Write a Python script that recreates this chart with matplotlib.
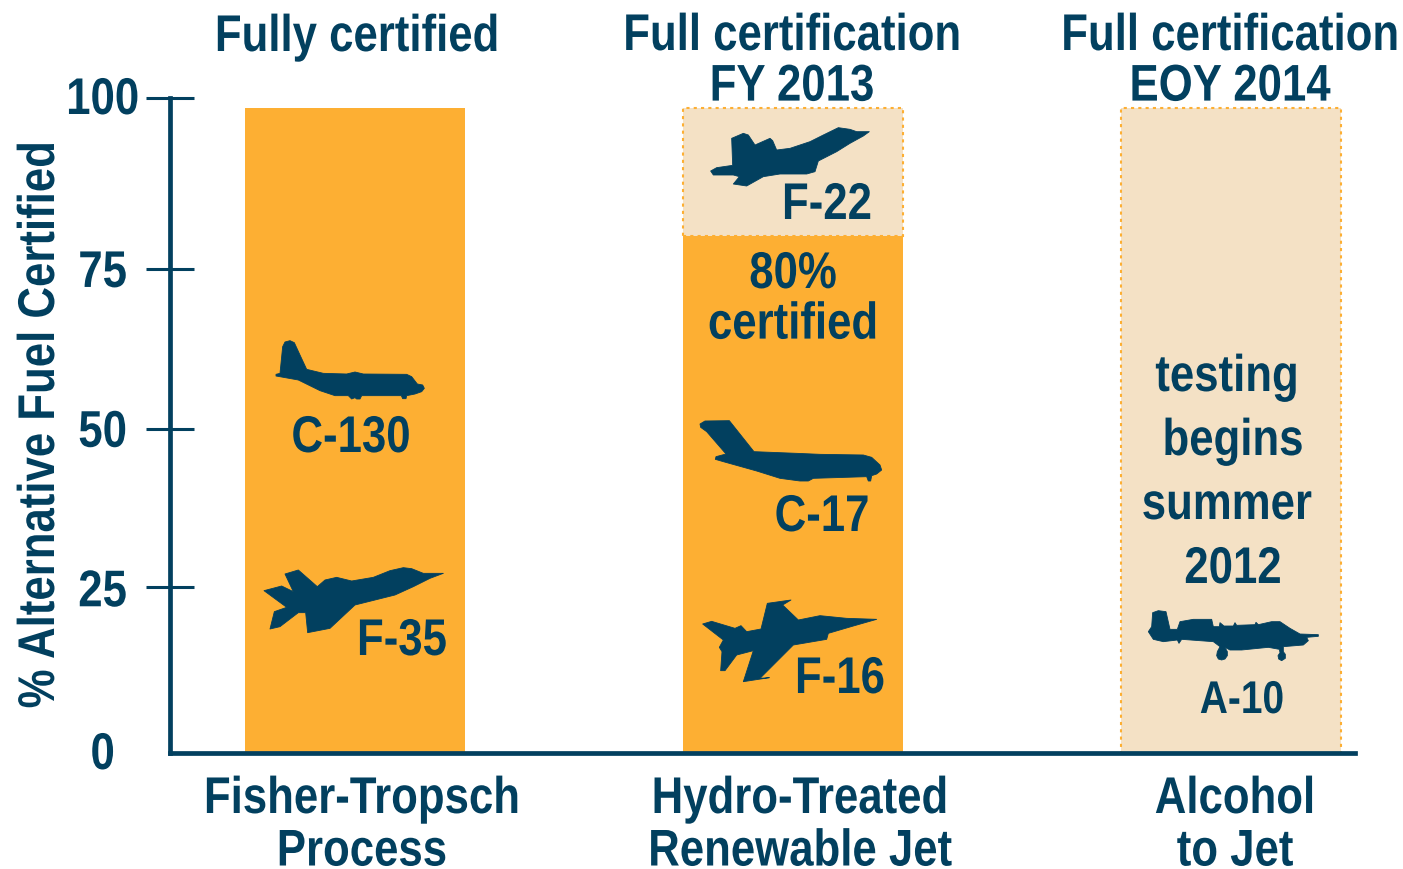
import matplotlib
matplotlib.use('Agg')
import matplotlib.pyplot as plt
from matplotlib.patches import Polygon
from matplotlib.patheffects import AbstractPathEffect
from matplotlib.transforms import Affine2D

plt.rcParams['font.family'] = ['Liberation Sans', 'DejaVu Sans']
plt.rcParams['font.weight'] = 'bold'

navy = '#02405F'
orange = '#FDAF33'
tan = '#F4E1C5'

processes = ['Fisher-Tropsch\nProcess', 'Hydro-Treated\nRenewable Jet', 'Alcohol\nto Jet']
certified = [98.5, 79, 0]
pending = [0, 19.5, 98.5]
tick_pos = [100, 73.9, 49.5, 25.3, 0]
tick_labels = ['100', '75', '50', '25', '0']
tick_nudge = [0, 2, 2, 3, 0]


class Tall(AbstractPathEffect):
    # the lettering in the original is a condensed face: stretch glyphs upward from the baseline
    def __init__(self, sy=1.18):
        self.sy = sy

    def draw_path(self, renderer, gc, tpath, affine, rgbFace):
        renderer.draw_path(gc, tpath, Affine2D().scale(1, self.sy) + affine, rgbFace)


W, H = 1403, 869
fig = plt.figure(figsize=(W / 100, H / 100), dpi=100)
ax = fig.add_axes([170 / W, 1 - 753 / H, (1355 - 170) / W, (753 - 98) / H])

x = [0, 1, 2]
for xi, c, p in zip(x, certified, pending):
    if p > 0:
        ax.bar(xi, p, width=0.502, bottom=c, facecolor=tan, edgecolor=orange,
               linewidth=1.5, linestyle=(0, (1.5, 2)), zorder=2)
    if c > 0:
        ax.bar(xi, c, width=0.502, color=orange, linewidth=0, zorder=3)
ax.set_xlim(-0.4224, 2.283)
ax.set_ylim(0, 100)

for s in ['top', 'right']:
    ax.spines[s].set_visible(False)
for s in ['left', 'bottom']:
    ax.spines[s].set_color(navy)
    ax.spines[s].set_linewidth(3.4)
    ax.spines[s].set_zorder(5)
ax.set_xticks([])
ax.set_yticks(tick_pos)
ax.set_yticklabels(tick_labels, ha='center', fontsize=31.5, color=navy)
ax.tick_params(axis='y', direction='inout', length=35, width=2.2, color=navy, pad=31)
ax.yaxis.get_major_ticks()[-1].tick1line.set_visible(False)
for lab, dy in zip(ax.get_yticklabels(), tick_nudge):
    lab.set_path_effects([Tall()])
    lab.set_transform(lab.get_transform() + Affine2D().translate(0, -dy))
ax.patch.set_alpha(0)

# overlay in pixel coordinates for the annotation text and the aircraft
ov = fig.add_axes([0, 0, 1, 1])
ov.set_xlim(0, W)
ov.set_ylim(H, 0)
ov.axis('off')


def label(px, py, s, size=31.5, spacing=1.3, rotation=0):
    ov.text(px, py, s, fontsize=size, color=navy, ha='center', va='baseline',
            multialignment='center', linespacing=spacing, rotation=rotation,
            rotation_mode='anchor', path_effects=[Tall()])


label(357, 51, 'Fully certified')
label(792, 91, 'Full certification\nFY 2013')
label(1230, 91, 'Full certification\nEOY 2014')
label(54, 425, '% Alternative Fuel Certified', rotation=90)
label(362, 854, processes[0], spacing=1.36)
label(800, 854, processes[1], spacing=1.36)
label(1235, 854, processes[2], spacing=1.36)
label(351, 452, 'C-130')
label(402, 655, 'F-35')
label(827, 219, 'F-22')
label(793, 329, '80%\ncertified')
label(822, 531, 'C-17')
label(840, 693, 'F-16')
label(1227, 391, 'testing')
label(1233, 455, 'begins')
label(1227, 519, 'summer')
label(1233, 583, '2012')
label(1242, 713, 'A-10', size=28)

# aircraft outlines
c130 = [(108,133),(120,130),(128,50),(135,36),(150,32),(163,38),(180,75),(200,118),(250,130),(320,132),
        (345,126),(370,132),(500,133),(515,140),(532,162),(548,165),(553,175),(545,185),(525,192),(500,197),
        (498,206),(488,206),(484,197),(365,197),(360,207),(350,207),(345,203),(335,207),(325,197),(285,197),
        (240,182),(175,150),(108,138)]
f35 = [(72,782),(125,768),(160,785),(135,732),(175,720),(232,770),(255,750),(290,742),(335,753),(400,742),
       (450,722),(490,713),(515,716),(550,730),(610,730),(570,745),(520,770),(465,795),(345,825),(270,895),
       (203,908),(197,848),(175,848),(120,890),(90,897),(103,845),(140,832)]
f22 = [(92,213),(110,203),(158,196),(155,115),(190,100),(205,105),(225,135),(270,115),(278,122),(290,150),
       (330,145),(390,125),(430,105),(475,83),(510,88),(530,95),(568,95),(550,108),(510,130),(470,155),
       (415,183),(405,215),(380,222),(300,222),(250,230),(200,258),(160,252),(178,230),(160,225),(100,225)]
c17 = [(60,42),(75,33),(148,32),(222,125),(350,130),(420,133),(550,135),(575,142),(600,165),(605,180),
       (590,192),(575,197),(572,213),(565,213),(560,200),(400,205),(385,213),(360,213),(300,205),(230,183),
       (130,155),(106,148),(108,140),(138,132),(80,65),(62,52)]
f16 = [(68,642),(95,634),(165,655),(183,647),(200,665),(243,657),(262,580),(333,570),(308,585),(355,630),
       (420,617),(500,625),(590,628),(520,648),(445,670),(440,688),(340,705),(240,805),(268,803),(190,815),
       (220,722),(170,735),(135,782),(122,782),(126,725),(118,712),(130,690)]
a10 = [(55,125),(65,110),(68,68),(85,62),(108,65),(120,118),(142,118),(150,95),(190,88),(245,88),(250,110),
       (268,110),(270,98),(282,108),(310,108),(315,98),(320,106),(375,104),(378,97),(385,104),(425,95),
       (450,95),(480,115),(510,132),(565,134),(565,139),(530,142),(535,152),(520,165),(460,170),(460,185),
       (466,193),(466,205),(455,212),(446,207),(444,197),(450,188),(448,178),(415,172),(335,180),(300,180),
       (285,172),(292,185),(292,197),(285,207),(275,210),(265,207),(260,197),(262,185),(270,170),(250,155),
       (155,148),(147,160),(142,150),(100,155),(70,148)]

for pts, ox, oy in [(c130, 240, 330), (f35, 240, 330), (f22, 680, 100),
                    (c17, 680, 410), (f16, 680, 410), (a10, 1130, 590)]:
    ov.add_patch(Polygon([(ox + a / 3, oy + b / 3) for a, b in pts], closed=True,
                         facecolor=navy, edgecolor=navy, linewidth=0.6, joinstyle='round'))

fig.savefig('out.png', dpi=100)
